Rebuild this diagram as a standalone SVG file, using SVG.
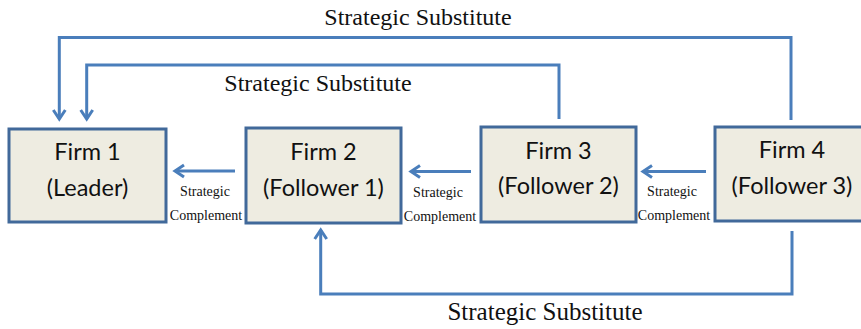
<svg xmlns="http://www.w3.org/2000/svg" width="861" height="329" viewBox="0 0 861 329">
<style>
.box{fill:#EEECE1;stroke:#41699A;stroke-width:3}
.ft{font-family:Lato,"Open Sans",sans-serif;font-size:23.5px;fill:#111;text-anchor:middle}
.lbl{font-family:"Liberation Serif","Times New Roman",serif;fill:#111;text-anchor:middle}
.sub{font-size:24px}
.sub2{font-size:25px}
.cmp{font-size:14px}
.con{fill:none;stroke:#4A7EBB;stroke-width:3}
</style>
<defs>
<marker id="arr" markerUnits="userSpaceOnUse" markerWidth="16" markerHeight="16" viewBox="0 0 16 16" refX="13" refY="8" orient="auto">
<path d="M4,2 L13,8 L4,14" fill="none" stroke="#4A7EBB" stroke-width="3"/>
</marker>
</defs>
<rect width="861" height="329" fill="#fff"/>
<g id="connectors">
<path class="con" d="M791,120 V37.5 H59.3 V119" marker-end="url(#arr)"/>
<path class="con" d="M559,119 V65 H86.7 V119" marker-end="url(#arr)"/>
<path class="con" d="M792,231 V294 H320.7 V230" marker-end="url(#arr)"/>
<path class="con" d="M235,171 H175" marker-end="url(#arr)"/>
<path class="con" d="M471,171.5 H411" marker-end="url(#arr)"/>
<path class="con" d="M706,171.5 H643" marker-end="url(#arr)"/>
</g>
<g id="labels">
<text class="lbl sub" x="418" y="25">Strategic Substitute</text>
<text class="lbl sub" x="318" y="91">Strategic Substitute</text>
<text class="lbl sub2" x="545" y="320">Strategic Substitute</text>
<text class="lbl cmp" x="205" y="196">Strategic</text>
<text class="lbl cmp" x="206" y="220">Complement</text>
<text class="lbl cmp" x="438" y="197">Strategic</text>
<text class="lbl cmp" x="440" y="221">Complement</text>
<text class="lbl cmp" x="672" y="196">Strategic</text>
<text class="lbl cmp" x="674" y="220">Complement</text>
</g>
<g id="firm1">
<rect class="box" x="9" y="129" width="157" height="93"/>
<text class="ft" x="87.5" y="160">Firm 1</text>
<text class="ft" x="87.5" y="196">(Leader)</text>
</g>
<g id="firm2">
<rect class="box" x="246" y="128" width="155" height="95"/>
<text class="ft" x="323.5" y="160">Firm 2</text>
<text class="ft" x="323.5" y="196">(Follower 1)</text>
</g>
<g id="firm3">
<rect class="box" x="481" y="127" width="155" height="95"/>
<text class="ft" x="558.5" y="159">Firm 3</text>
<text class="ft" x="558.5" y="194">(Follower 2)</text>
</g>
<g id="firm4">
<rect class="box" x="715" y="127" width="155" height="94"/>
<text class="ft" x="792" y="158">Firm 4</text>
<text class="ft" x="792" y="194">(Follower 3)</text>
</g>
</svg>
